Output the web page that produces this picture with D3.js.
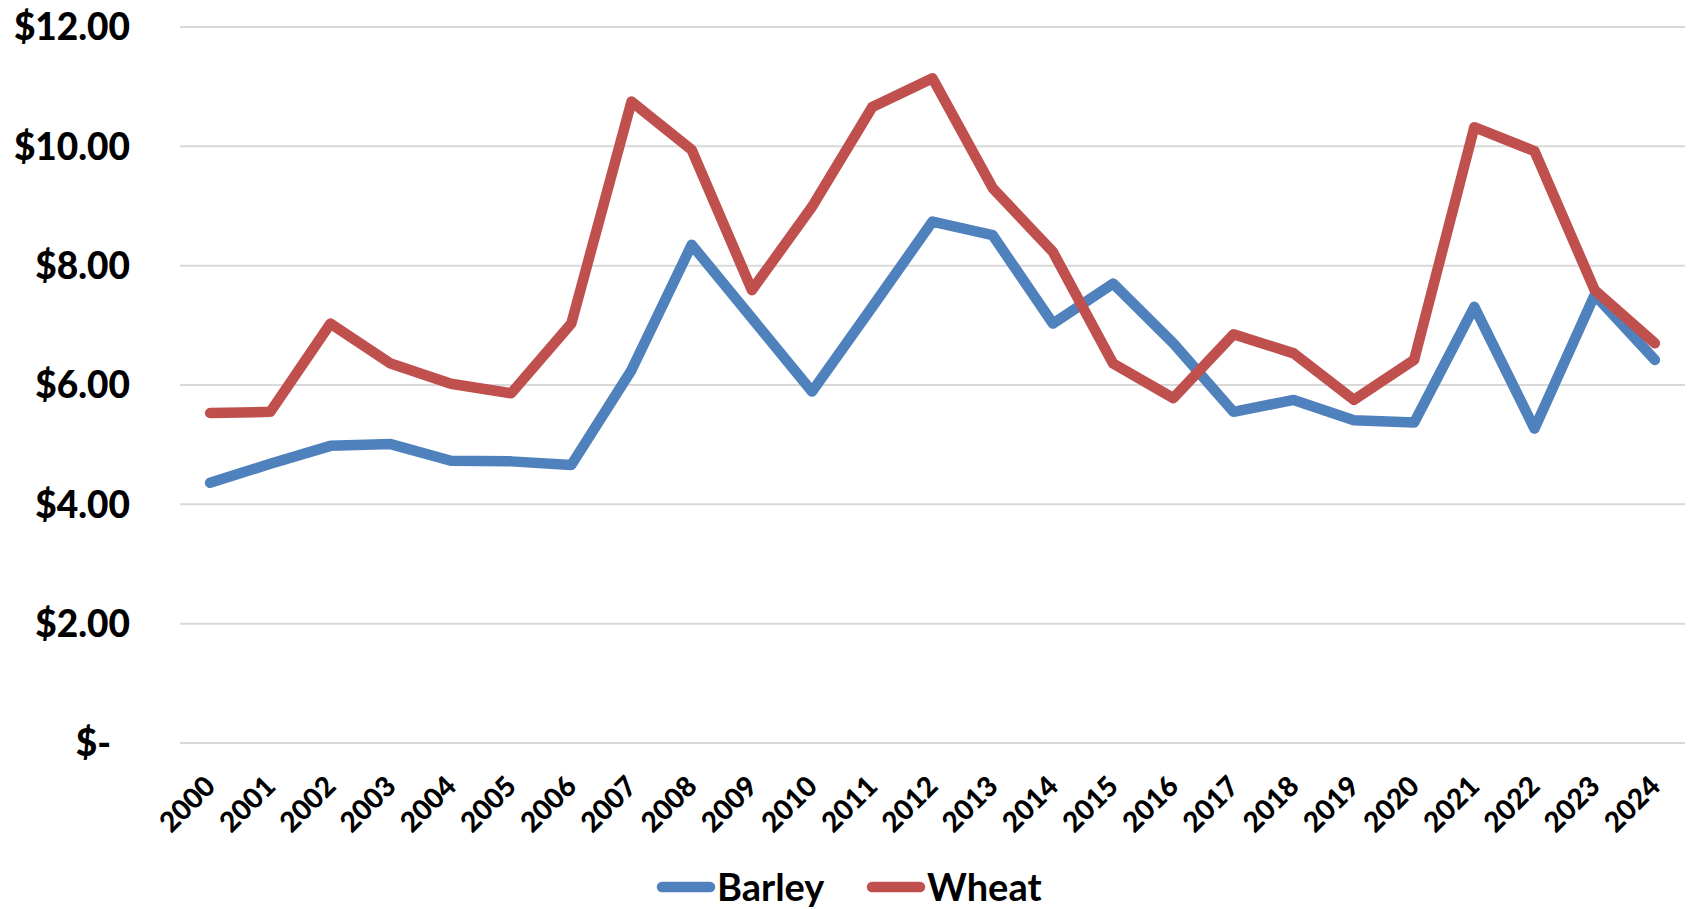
<!DOCTYPE html>
<html>
<head>
  <meta charset="utf-8">
  <script src="https://d3js.org/d3.v7.min.js"></script>
  <style>
    body { margin: 0; background: #fff; }
    text { font-family: "Lato", "Open Sans", sans-serif; font-weight: bold; fill: #000; }
  </style>
</head>
<body>
  <div id="chart"></div>

  <script type="text/javascript">

    // values, $ per bushel
    var years = ["2000", "2001", "2002", "2003", "2004", "2005", "2006", "2007", "2008", "2009",
                 "2010", "2011", "2012", "2013", "2014", "2015", "2016", "2017", "2018", "2019",
                 "2020", "2021", "2022", "2023", "2024"];

    var barley = [4.36, 4.68, 4.98, 5.01, 4.73, 4.72, 4.66, 6.25, 8.35, 7.12,
                  5.89, 7.31, 8.74, 8.51, 7.03, 7.70, 6.70, 5.55, 5.75, 5.41,
                  5.37, 7.31, 5.27, 7.51, 6.42];

    var wheat = [5.53, 5.55, 7.03, 6.36, 6.02, 5.86, 7.03, 10.75, 9.94, 7.59,
                 8.99, 10.66, 11.14, 9.30, 8.23, 6.36, 5.78, 6.85, 6.53, 5.75,
                 6.42, 10.32, 9.92, 7.59, 6.70];

    var yTicks = [0, 2, 4, 6, 8, 10, 12];

    var seriesNames = ["Barley", "Wheat"];
    var seriesColors = ["#4F81BD", "#C0504D"];

    var width = 1691;
    var height = 909;
    var margin = {top: 27, right: 6, bottom: 166, left: 180};

    var svg = d3.select('#chart')
                .append('svg')
                  .attr('width', width)
                  .attr('height', height);

    var x = d3.scalePoint()
        .domain(years)
        .range([margin.left, width - margin.right])
        .padding(0.5);

    var y = d3.scaleLinear()
        .domain([0, 12])
        .range([height - margin.bottom, margin.top]);

    var fmt = function(d) {
      return d === 0 ? "$-" : "$" + d3.format(".2f")(d);
    };

    // gridlines
    svg.append("g")
        .selectAll("line")
        .data(yTicks)
        .enter()
        .append("line")
          .attr("x1", margin.left)
          .attr("x2", width - margin.right)
          .attr("y1", function(d) { return y(d); })
          .attr("y2", function(d) { return y(d); })
          .attr("stroke", "#D9D9D9")
          .attr("stroke-width", 2);

    // y axis labels
    svg.append("g")
        .selectAll("text")
        .data(yTicks)
        .enter()
        .append("text")
          .attr("x", function(d) { return d === 0 ? 111 : 130; })
          .attr("y", function(d) { return y(d); })
          .attr("dy", "0.36em")
          .attr("text-anchor", "end")
          .attr("font-size", 37)
          .style("font-weight", 900)
          .text(fmt);

    // x axis labels, rotated
    svg.append("g")
        .selectAll("text")
        .data(years)
        .enter()
        .append("text")
          .attr("transform", function(d) {
            return "translate(" + (x(d) + 7) + "," + 788 + ") rotate(-45)";
          })
          .attr("text-anchor", "end")
          .attr("font-size", 28)
          .style("font-weight", 900)
          .text(function(d) { return d; });

    // lines
    var series = [barley, wheat];

    var line = d3.line()
        .x(function(d, i) { return x(years[i]); })
        .y(function(d) { return y(d); });

    svg.append("g")
        .selectAll("path")
        .data(series)
        .enter()
        .append("path")
          .attr("d", line)
          .attr("fill", "none")
          .attr("stroke", function(d, i) { return seriesColors[i]; })
          .attr("stroke-width", 10.5)
          .attr("stroke-linejoin", "round")
          .attr("stroke-linecap", "round");

    // legend
    var legendX = [658, 868];
    var legendY = 887;

    var legend = svg.append("g")
        .selectAll("g")
        .data(seriesNames)
        .enter()
        .append("g")
          .attr("transform", function(d, i) {
            return "translate(" + legendX[i] + "," + legendY + ")";
          });

    legend.append("line")
        .attr("x1", 4)
        .attr("x2", 52)
        .attr("stroke", function(d, i) { return seriesColors[i]; })
        .attr("stroke-width", 10.5)
        .attr("stroke-linecap", "round");

    legend.append("text")
        .attr("x", 59)
        .attr("dy", "0.36em")
        .attr("font-size", 38)
        .text(function(d) { return d; });

  </script>
</body>
</html>
